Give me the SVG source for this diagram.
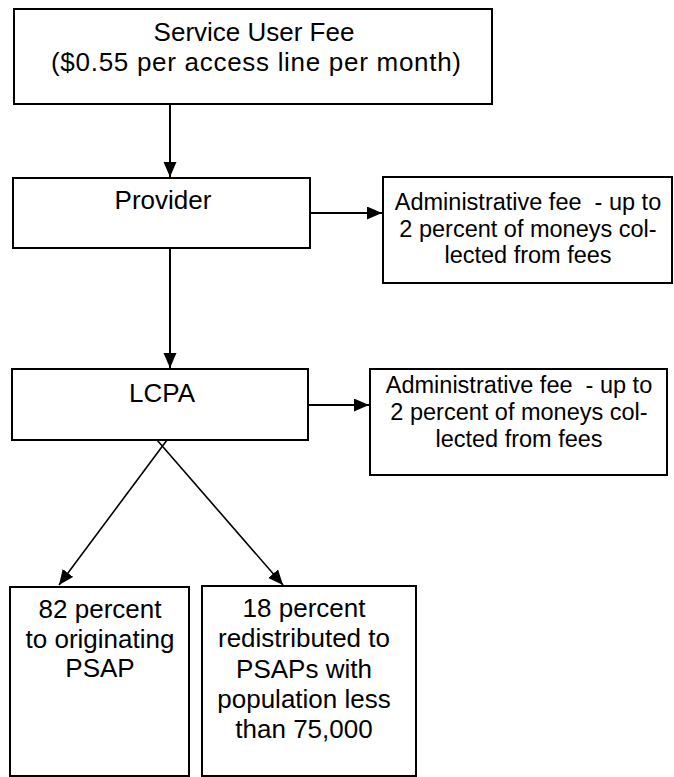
<svg xmlns="http://www.w3.org/2000/svg" width="674" height="777" viewBox="0 0 674 777">
<style>
.box{fill:#fff;stroke:#000;stroke-width:2}
.t{font-family:"Liberation Sans",Arial,Helvetica,sans-serif;font-size:26px;fill:#000;text-anchor:middle;white-space:pre}
.s{font-size:23.5px}
.c{stroke:#000;stroke-width:2;fill:none}
.d{stroke:#000;stroke-width:1.6;fill:none}
</style>
<defs>
<marker id="ah" markerUnits="userSpaceOnUse" markerWidth="16" markerHeight="14" refX="15" refY="6.5" orient="auto">
<path d="M0,0 L15,6.5 L0,13 Z" fill="#000"/>
</marker>
</defs>
<rect width="674" height="777" fill="#fff"/>
<g id="connectors">
<line class="c" x1="170" y1="104" x2="170" y2="177" marker-end="url(#ah)"/>
<line class="c" x1="170" y1="248" x2="170" y2="368" marker-end="url(#ah)"/>
<line class="c" x1="310" y1="213" x2="382" y2="213" marker-end="url(#ah)"/>
<line class="c" x1="308" y1="405" x2="369" y2="405" marker-end="url(#ah)"/>
<line class="d" x1="167" y1="440" x2="59" y2="585" marker-end="url(#ah)"/>
<line class="d" x1="157" y1="440" x2="283" y2="585" marker-end="url(#ah)"/>
</g>
<g id="fee">
<rect class="box" x="14" y="9" width="478" height="95"/>
<text class="t" x="254" y="41">Service User Fee</text>
<text class="t" x="256" y="71" textLength="410" lengthAdjust="spacing">($0.55 per access line per month)</text>
</g>
<g id="provider">
<rect class="box" x="13" y="178" width="297" height="70"/>
<text class="t" x="163" y="209">Provider</text>
</g>
<g id="admin1">
<rect class="box" x="383" y="177" width="289" height="106"/>
<text class="t s" x="528" y="210" xml:space="preserve">Administrative fee  - up to</text>
<text class="t s" x="528" y="237">2 percent of moneys col-</text>
<text class="t s" x="528" y="263">lected from fees</text>
</g>
<g id="lcpa">
<rect class="box" x="12" y="369" width="296" height="71"/>
<text class="t" x="162" y="402">LCPA</text>
</g>
<g id="admin2">
<rect class="box" x="370" y="369" width="297" height="106"/>
<text class="t s" x="519" y="393" xml:space="preserve">Administrative fee  - up to</text>
<text class="t s" x="519" y="420">2 percent of moneys col-</text>
<text class="t s" x="519" y="447">lected from fees</text>
</g>
<g id="psap82">
<rect class="box" x="10" y="587" width="179" height="189"/>
<text class="t" x="100" y="618">82 percent</text>
<text class="t" x="100" y="648">to originating</text>
<text class="t" x="100" y="677">PSAP</text>
</g>
<g id="psap18">
<rect class="box" x="202" y="586" width="214" height="190"/>
<text class="t" x="304" y="617">18 percent</text>
<text class="t" x="304" y="647">redistributed to</text>
<text class="t" x="304" y="678">PSAPs with</text>
<text class="t" x="304" y="708">population less</text>
<text class="t" x="304" y="738">than 75,000</text>
</g>
</svg>
